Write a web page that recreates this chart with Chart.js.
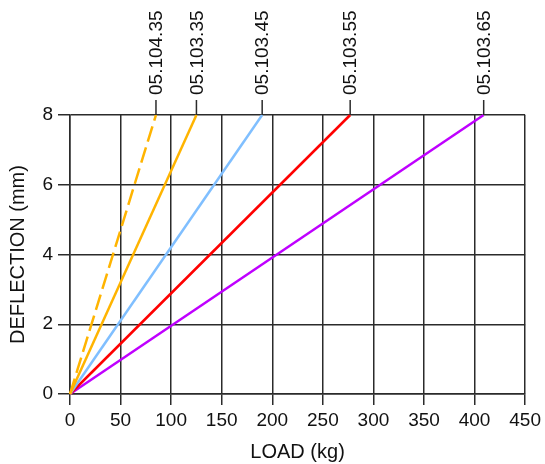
<!DOCTYPE html>
<html>
<head>
<meta charset="utf-8">
<script src="https://cdn.jsdelivr.net/npm/chart.js@4/dist/chart.umd.min.js"></script>
<style>
  body { margin: 0; background: #fff; }
  #wrap { width: 545px; height: 464px; }
</style>
</head>
<body>
<div id="wrap"><canvas id="myChart" width="545" height="464"></canvas></div>
<script>
// part numbers, one line per spring
let partNames = ['05.104.35', '05.103.35', '05.103.45', '05.103.55', '05.103.65'];
// load (kg) read where each line hits 8 mm
let loadAt8mm = [85, 125, 190, 277, 409];
let startPoint = [0, 0];
let endDeflection = 8;
let colorHex = ['#ffb400', '#ffb400', '#80bfff', '#ff0000', '#bf00ff'];
let xTicks = [0, 50, 100, 150, 200, 250, 300, 350, 400, 450];
let yTicks = [0, 2, 4, 6, 8];

let gridColor = '#2b2b2b';
let textColor = '#111';
let fontFam = '"Liberation Sans", Arial, sans-serif';

let datasets = partNames.map(function (name, i) {
  return {
    label: name,
    data: [{x: startPoint[0], y: startPoint[1]}, {x: loadAt8mm[i], y: endDeflection}],
    borderColor: colorHex[i],
    borderWidth: 2.5,
    borderDash: i == 0 ? [16, 6] : [],
    pointRadius: 0,
    tension: 0,
    clip: false
  };
});

// the part number labels sitting above each line's end
let topLabels = {
  id: 'topLabels',
  afterDatasetsDraw: function (chart) {
    let ctx = chart.ctx;
    let xs = chart.scales.x, ys = chart.scales.y;
    ctx.save();
    ctx.strokeStyle = gridColor;
    ctx.lineWidth = 1.5;
    ctx.fillStyle = textColor;
    ctx.font = '19px ' + fontFam;
    chart.data.datasets.forEach(function (ds) {
      let last = ds.data[ds.data.length - 1];
      let px = xs.getPixelForValue(last.x);
      let py = ys.getPixelForValue(last.y);
      ctx.beginPath();
      ctx.moveTo(px, py);
      ctx.lineTo(px, py - 15);
      ctx.stroke();
      ctx.save();
      ctx.translate(px + 1, py - 20);
      ctx.rotate(-Math.PI / 2);
      ctx.textAlign = 'left';
      ctx.textBaseline = 'middle';
      ctx.fillText(ds.label, 0, 0);
      ctx.restore();
    });
    ctx.restore();
  }
};

let ctx = document.getElementById('myChart').getContext('2d');
let myChart = new Chart(ctx, {
  type: 'line',
  data: {datasets: datasets},
  plugins: [topLabels],
  options: {
    responsive: false,
    animation: false,
    layout: {padding: {top: 115, right: 18, left: 0, bottom: 0}},
    plugins: {legend: {display: false}, tooltip: {enabled: false}},
    scales: {
      x: {
        type: 'linear', min: 0, max: 450,
        afterBuildTicks: function (s) { s.ticks = xTicks.map(function (v) { return {value: v}; }); },
        afterFit: function (s) { s.height = 70; },
        grid: {color: gridColor, lineWidth: 1.5, tickLength: 11, tickColor: gridColor},
        border: {color: gridColor, width: 1.5},
        ticks: {color: textColor, padding: 4, maxRotation: 0, font: {size: 19, family: fontFam}},
        title: {display: true, text: 'LOAD (kg)', color: textColor, padding: {top: 0, bottom: 0}, font: {size: 20, family: fontFam}}
      },
      y: {
        type: 'linear', min: 0, max: 8,
        afterBuildTicks: function (s) { s.ticks = yTicks.map(function (v) { return {value: v}; }); },
        afterFit: function (s) { s.width = 70; },
        grid: {color: gridColor, lineWidth: 1.5, tickLength: 12, tickColor: gridColor},
        border: {color: gridColor, width: 1.5},
        ticks: {color: textColor, padding: 5, font: {size: 19, family: fontFam}},
        title: {display: true, text: 'DEFLECTION (mm)', color: textColor, padding: {top: 6, bottom: 0}, font: {size: 20, family: fontFam}}
      }
    }
  }
});
</script>
</body>
</html>
